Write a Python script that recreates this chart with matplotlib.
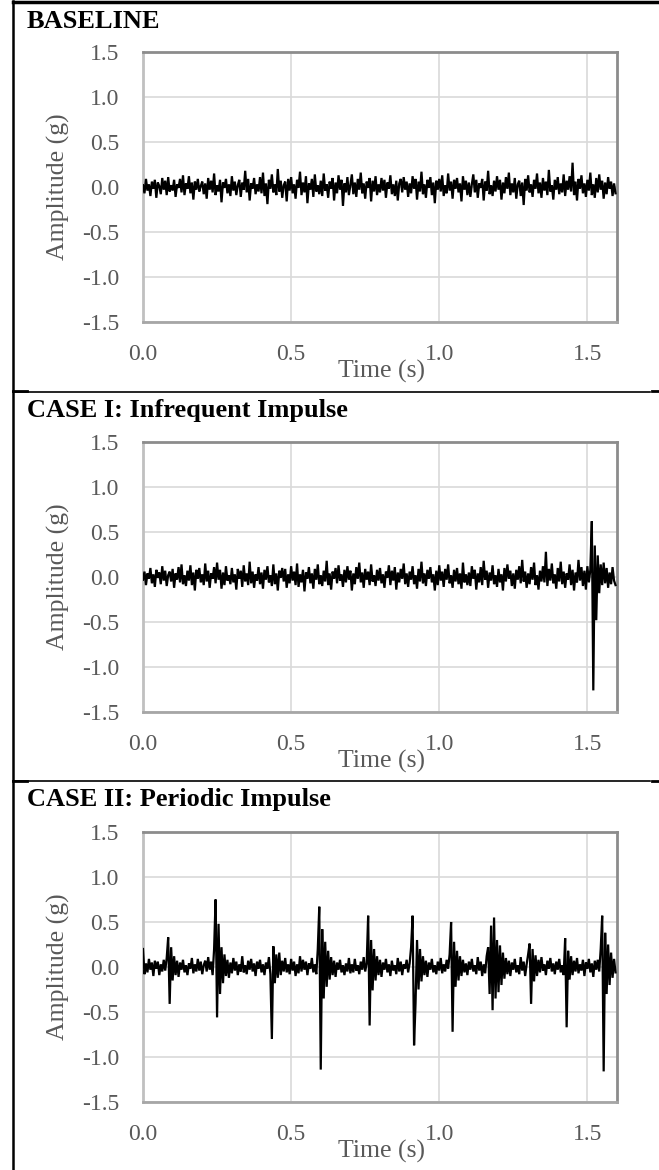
import numpy as np
import matplotlib
matplotlib.use("Agg")
import matplotlib.pyplot as plt
from matplotlib.lines import Line2D

# amplitudes in hundredths of g, one sample every 5 ms
dt = 0.005
baseline = [
    2, -7, 9, -4, 3, -10, 6, -2, 8, -12, 5, 1, -8, 10, -3, 7, -9, 11, -5, 2,
    -4, 8, -11, 3, -1, 9, -6, 13, -9, 4, -2, 12, -7, 5, -14, 6, -3, 9, -5, 1,
    6, -8, 4, -13, 10, -3, 7, -6, 15, -9, 2, -5, 8, -17, 5, -1, 9, -7, 3, -10,
    12, -4, 6, -9, 2, 8, -11, 5, -3, 18, -6, 9, -15, 4, -2, 10, -8, 3, -5, 11,
    -7, 16, -10, 4, -19, 8, -2, 14, -6, 3, -9, 20, -5, 7, -12, 2, 6, -16, 9, -4,
    11, -7, 3, -13, 8, -1, 17, -9, 5, -6, 12, -18, 4, -3, 9, -11, 14, -5, 2, -8,
    7, -10, 15, -4, 3, -12, 6, -2, 10, -15, 5, -7, 13, -3, 8, -21, 4, -6, 11, -9,
    2, 14, -8, 5, -11, 9, -3, 16, -7, 4, -13, 6, -1, 10, -16, 7, -5, 12, -9, 3,
    -6, 10, -4, 8, -12, 5, -2, 13, -8, 3, -10, 7, -15, 4, 9, -6, 11, -3, 6, -11,
    4, -7, 12, -2, 9, -14, 6, -5, 17, -8, 3, -12, 8, -1, 11, -9, 5, -18, 7, -3,
    9, -5, 13, -10, 2, -7, 15, -4, 6, -13, 8, -2, 10, -6, 4, -16, 12, -3, 7, -9,
    5, -11, 3, 14, -6, 8, -12, 4, -1, 9, -15, 6, -4, 18, -8, 2, -10, 7, -5, 12,
    -3, 8, -14, 5, -7, 11, -2, 16, -9, 4, -6, 10, -13, 3, 7, -10, 5, -20, 9, -4,
    13, -6, 3, -11, 8, -2, 15, -7, 5, -12, 10, -4, 6, -9, 19, -5, 2, -14, 8, -3,
    11, -8, 4, -6, 14, -10, 7, -3, 12, -5, 27, -9, 6, -15, 9, -2, 13, -7, 4, -11,
    8, -4, 16, -9, 3, -12, 10, -6, 14, -3, 7, -13, 5, -8, 11, -2, 6, -10, 4, -7,
]
case1 = [
    -3, 6, -9, 4, -2, 10, -7, 3, -11, 8, -1, 5, -8, 12, -4, 7, -10, 2, 6, -5,
    9, -12, 4, -3, 11, -6, 14, -8, 2, -10, 7, -4, 13, -9, 5, -15, 8, -2, 10, -6,
    3, -9, 15, -5, 7, -12, 4, -2, 11, -7, 16, -3, 8, -13, 5, -9, 12, -4, 2, -8,
    10, -6, 3, -14, 9, -2, 7, -11, 13, -5, 4, -9, 17, -7, 6, -12, 3, -4, 11, -8,
    5, -13, 8, -3, 12, -6, 2, -10, 14, -8, 4, -15, 7, -1, 10, -5, 9, -12, 3, -7,
    12, -4, 6, -9, 15, -11, 3, -6, 8, -16, 5, -2, 11, -7, 4, -13, 9, -3, 14, -8,
    2, -10, 7, -5, 18, -9, 4, -14, 6, -2, 10, -7, 13, -4, 3, -11, 8, -6, 12, -3,
    7, -15, 4, -8, 11, -2, 16, -6, 5, -12, 9, -3, 6, -9, 14, -5, 2, -10, 8, -4,
    10, -7, 3, -12, 6, -1, 13, -9, 7, -4, 11, -14, 5, -6, 9, -2, 15, -8, 4, -11,
    6, -3, 12, -8, 2, -13, 9, -5, 17, -7, 4, -10, 8, -2, 11, -6, 3, -15, 7, -9,
    13, -4, 6, -11, 9, -3, 14, -7, 2, -12, 8, -5, 10, -8, 4, -13, 16, -6, 3, -9,
    5, -10, 12, -2, 8, -14, 4, -6, 11, -9, 18, -3, 7, -12, 5, -4, 13, -8, 2, -11,
    9, -6, 3, -15, 10, -5, 14, -2, 7, -10, 4, -13, 8, -3, 12, -7, 19, -5, 6, -12,
    4, -8, 11, -3, 16, -9, 2, -14, 7, -5, 12, -6, 28, -10, 9, -4, 15, -7, 3, -13,
    10, -5, 17, -8, 6, -12, 4, -3, 14, -9, 8, -15, 5, -6, 19, -4, 11, -10, 7, -14,
    12, -6, 8, 62, -126, 35, -48, 24, -18, 14, -9, 16, -7, 10, -12, 5, -8, 11, -4, -9,
]
case2 = [
    20, -8, 4, -6, 9, -3, 5, -10, 7, -2, 6, -9, 3, -5, 8, -4, 10, 33, -41, 22,
    -15, 12, -9, 7, -11, 5, -3, 8, -6, 2, -9, 4, -2, 10, -7, 3, -5, 9, -4, 6,
    -8, 2, 7, -5, 11, -3, 6, -9, 20, 75, -56, 48, -30, 22, -18, 14, -10, 8, -12, 5,
    -7, 10, -4, 6, -9, 3, -5, 12, -6, 2, -8, 7, -3, 9, -5, 4, -10, 6, -2, 8,
    -6, 3, -9, 5, -2, 11, -8, -80, 23, -18, 14, -12, 16, -9, 7, -5, 10, -6, 3, -8,
    9, -4, 6, -10, 3, -7, 12, -5, 8, -3, 6, -9, 4, -2, 10, -6, 3, -8, 20, 67,
    -114, 42, -35, 28, -22, 18, -14, 11, -9, 7, -11, 5, -3, 8, -6, 2, -9, 4, -5, 10,
    -7, 3, -6, 9, -4, 2, -8, 6, -3, 11, -5, 4, 57, -65, 30, -26, 20, -15, 12, -9,
    8, -11, 5, -3, 9, -6, 3, -10, 7, -4, 2, -8, 10, -5, 6, -9, 3, -2, 8, -6,
    4, 22, 57, -87, -40, 30, -25, 20, -16, 12, -9, 7, -11, 5, -3, 9, -6, 2, -8, 6,
    -4, 10, -7, 3, -5, 8, -2, 14, 50, -72, 28, -22, 18, -15, 12, -10, 8, -6, 4, -9,
    6, -3, 9, -5, 2, -8, 11, -4, 6, -10, 3, -7, 12, 22, -30, 46, -48, 55, -35, 30,
    -28, 24, -20, 16, -13, 10, -8, 7, -10, 5, -3, 9, -6, 2, -8, 11, -4, 6, -10, 3,
    14, 26, -41, 20, -16, 13, -10, 8, -6, 11, -4, 3, -9, 7, -2, 10, -5, 4, -8, 6,
    -3, 9, -6, 2, -9, 32, -67, 18, -14, 12, -9, 7, -5, 10, -7, 3, -4, 8, -10, 5,
    -2, 9, -6, 4, -11, 7, -3, 8, -5, 20, 57, -116, 38, -30, 25, -20, 16, -12, 9, -6,
]
titles = ["BASELINE", "CASE I: Infrequent Impulse", "CASE II: Periodic Impulse"]
signals = [baseline, case1, case2]
xticks = [0.0, 0.5, 1.0, 1.5]
yticks = [-1.5, -1.0, -0.5, 0.0, 0.5, 1.0, 1.5]

W, H = 659, 1170
fig = plt.figure(figsize=(W / 100, H / 100), dpi=100)
serif = "Liberation Serif"
gray = "#595959"
step = 390

for i in range(3):
    top = 52 + step * i
    ax = fig.add_axes([143 / W, 1 - (top + 270) / H, 474 / W, 270 / H])
    y = np.array(signals[i]) / 100.0
    t = np.arange(len(y)) * dt
    ax.plot(t, y, color="black", lw=1.6, zorder=3, solid_joinstyle="miter")
    ax.set_xlim(0, 1.6)
    ax.set_ylim(-1.5, 1.5)
    ax.set_xticks(xticks)
    ax.set_xticklabels(["%.1f" % v for v in xticks], fontfamily=serif, fontsize=17, color=gray)
    ax.set_yticks(yticks)
    ax.set_yticklabels(["%.1f" % v for v in yticks], fontfamily=serif, fontsize=17, color=gray)
    ax.tick_params(axis="y", length=0, pad=17)
    ax.tick_params(axis="x", length=0, pad=16)
    ax.grid(True, color="#d9d9d9", lw=1.2)
    ax.set_axisbelow(True)
    for s in ["top", "right"]:
        ax.spines[s].set_color("#8c8c8c")
        ax.spines[s].set_linewidth(2)
    ax.spines["left"].set_color("#c0c0c0")
    ax.spines["bottom"].set_color("#a6a6a6")
    ax.spines["left"].set_linewidth(2)
    ax.spines["bottom"].set_linewidth(2)

    fig.text(27 / W, 1 - (28 + 389 * i) / H, titles[i], fontfamily=serif,
             fontweight="bold", fontsize=19, va="baseline", ha="left")
    fig.text(58 / W, 1 - (top + 135) / H, "Amplitude (g)", rotation=90,
             fontfamily=serif, fontsize=18.5, color=gray, ha="center", va="center")
    fig.text(381 / W, 1 - (378 + step * i) / H, "Time (s)", fontfamily=serif,
             fontsize=18.5, color=gray, ha="center", va="baseline")

# table borders
def hline(y, x0, x1, lw):
    fig.add_artist(Line2D([x0 / W, x1 / W], [1 - y / H, 1 - y / H], color="black", lw=lw))

hline(2, 13, 659, 2.5)
for yd in [392, 781]:
    hline(yd, 13, 650, 1.2)
    hline(yd - 0.5, 13, 27, 2)
    hline(yd - 0.5, 652, 659, 2)
fig.add_artist(Line2D([13 / W, 13 / W], [1 - 1 / H, 1 - 1169 / H], color="black", lw=1.8))

plt.savefig("out.png", dpi=100)
